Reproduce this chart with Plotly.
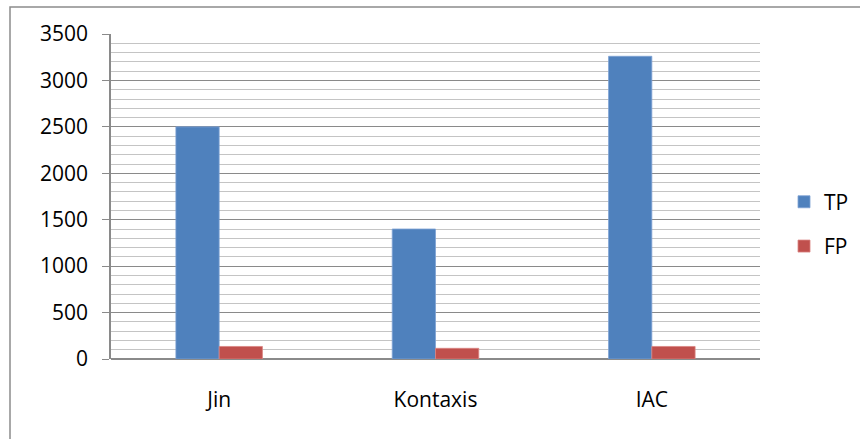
import plotly.graph_objects as go

# Detection results per method
methods = ["Jin", "Kontaxis", "IAC"]
tp_counts = [2500, 1400, 3260]
fp_counts = [135, 115, 135]
y_ticks = [0, 500, 1000, 1500, 2000, 2500, 3000, 3500]

W, H = 860, 439
L, R, T, B = 111, 100, 34, 80
plot_w = W - L - R
plot_h = H - T - B

font_family = "Open Sans, DejaVu Sans, sans-serif"

fig = go.Figure()
fig.add_trace(go.Bar(
    name="TP", x=methods, y=tp_counts,
    marker=dict(color="#4F81BD", line=dict(color="#7DA2D4", width=0.8)),
    legendgroup="tp",
))
fig.add_trace(go.Bar(
    name="FP", x=methods, y=fp_counts,
    marker=dict(color="#C0504D", line=dict(color="#D98482", width=0.8)),
    legendgroup="fp",
))

# Outer chart frame (left and top edges)
fx = (10 - L) / plot_w
fy = (H - B - 7) / plot_h
fig.add_shape(type="path", xref="paper", yref="paper",
              path=f"M {fx} -0.5 L {fx} {fy} L 1.3 {fy}",
              line=dict(color="#8C8C8C", width=1.5))

fig.update_layout(
    width=W, height=H,
    margin=dict(l=L, r=R, t=T, b=B, autoexpand=False),
    paper_bgcolor="white", plot_bgcolor="white",
    barmode="group", bargap=0.6, bargroupgap=0.0,
    font=dict(family=font_family, size=21, color="#000000"),
    legend=dict(x=1.037, y=0.415, xanchor="left", yanchor="middle",
                traceorder="grouped", tracegroupgap=14,
                font=dict(size=21), itemwidth=30,
                bgcolor="rgba(0,0,0,0)"),
    xaxis=dict(showgrid=False, showline=False, ticks="",
               ticklabelstandoff=26, tickfont=dict(size=21)),
    yaxis=dict(range=[0, 3500], tickvals=y_ticks,
               showgrid=True, gridcolor="#8A8A8A", gridwidth=1.3,
               minor=dict(dtick=100, showgrid=True, gridcolor="#C4C4C4", gridwidth=1.3),
               showline=True, linecolor="#8A8A8A", linewidth=1.5,
               ticks="outside", ticklen=7, tickcolor="#8A8A8A", tickwidth=1.3,
               ticklabelstandoff=10, tickfont=dict(size=21),
               zeroline=True, zerolinecolor="#8A8A8A", zerolinewidth=2),
)

fig.write_html("out.html")
